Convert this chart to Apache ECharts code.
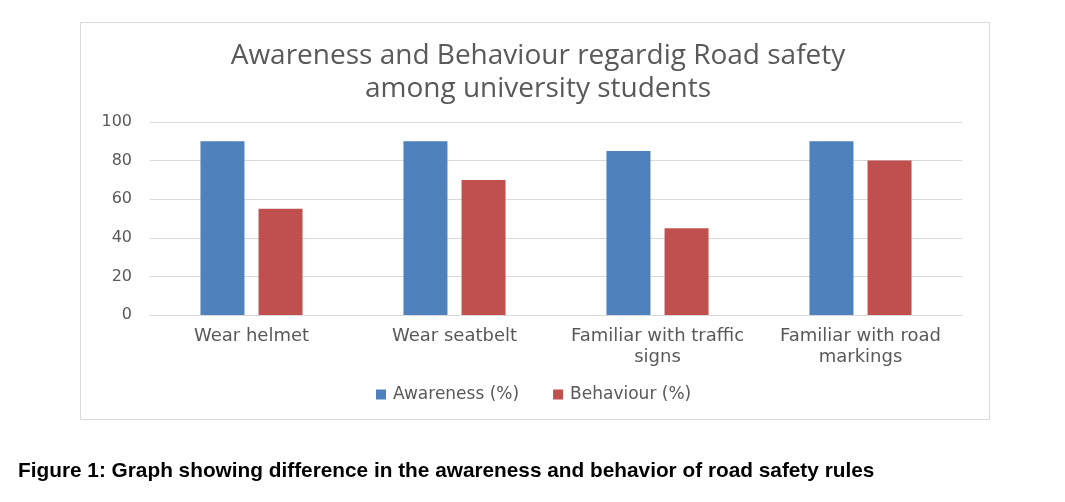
<!DOCTYPE html>
<html>
<head>
<meta charset="utf-8">
<script src="https://cdn.jsdelivr.net/npm/echarts@6/dist/echarts.min.js"></script>
<style>
html,body{margin:0;padding:0;background:#fff;}
#chart{width:1065px;height:502px;}
</style>
</head>
<body>
<div id="chart"></div>
<script>
var categories = ['Wear helmet', 'Wear seatbelt', 'Familiar with traffic\nsigns', 'Familiar with road\nmarkings'];
var awareness = [90, 90, 85, 90];
var behaviour = [55, 70, 45, 80];
var yTicks = [0, 20, 40, 60, 80, 100];
var seriesNames = ['Awareness (%)', 'Behaviour (%)'];
var chartTitle = 'Awareness and Behaviour regardig Road safety\namong university students';
var caption = 'Figure 1: Graph showing difference in the awareness and behavior of road safety rules';

var chart = echarts.init(document.getElementById('chart'), null, {renderer: 'canvas'});
var labelFont = 'DejaVu Sans';
chart.setOption({
  backgroundColor: '#ffffff',
  animation: false,
  title: {
    text: chartTitle,
    left: 533,
    textAlign: 'center',
    top: 35,
    textStyle: {fontFamily: 'Open Sans', fontWeight: 'normal', fontSize: 28, color: '#595959', lineHeight: 33}
  },
  legend: {
    data: seriesNames,
    bottom: 94,
    left: 371,
    itemWidth: 10,
    itemHeight: 10,
    itemGap: 34,
    icon: 'rect',
    textStyle: {fontFamily: labelFont, fontSize: 17, color: '#595959', padding: [0, 0, 0, 2]}
  },
  grid: {left: 150, right: 103, top: 122, bottom: 187, containLabel: false},
  xAxis: {
    type: 'category',
    data: categories,
    axisLine: {lineStyle: {color: '#d9d9d9'}},
    axisTick: {show: false},
    axisLabel: {fontFamily: labelFont, fontSize: 18, color: '#595959', margin: 11, lineHeight: 21, interval: 0}
  },
  yAxis: {
    type: 'value',
    min: yTicks[0],
    max: yTicks[yTicks.length - 1],
    interval: yTicks[1] - yTicks[0],
    axisLine: {show: false},
    axisTick: {show: false},
    splitLine: {lineStyle: {color: '#d9d9d9'}},
    axisLabel: {fontFamily: labelFont, fontSize: 16, color: '#595959', margin: 18}
  },
  series: [
    {name: seriesNames[0], type: 'bar', data: awareness, barWidth: 44, barGap: '32%', itemStyle: {color: '#4F81BD'}},
    {name: seriesNames[1], type: 'bar', data: behaviour, barWidth: 44, barGap: '32%', itemStyle: {color: '#C0504D'}}
  ],
  graphic: [
    {type: 'rect', shape: {x: 80.5, y: 22.5, width: 909, height: 397}, style: {fill: 'none', stroke: '#d9d9d9', lineWidth: 1}, silent: true, z: -1},
    {type: 'text', left: 18, top: 461, style: {text: caption, font: 'bold 20.8px "Liberation Sans", Arial', fill: '#000000'}}
  ]
});
</script>
</body>
</html>
